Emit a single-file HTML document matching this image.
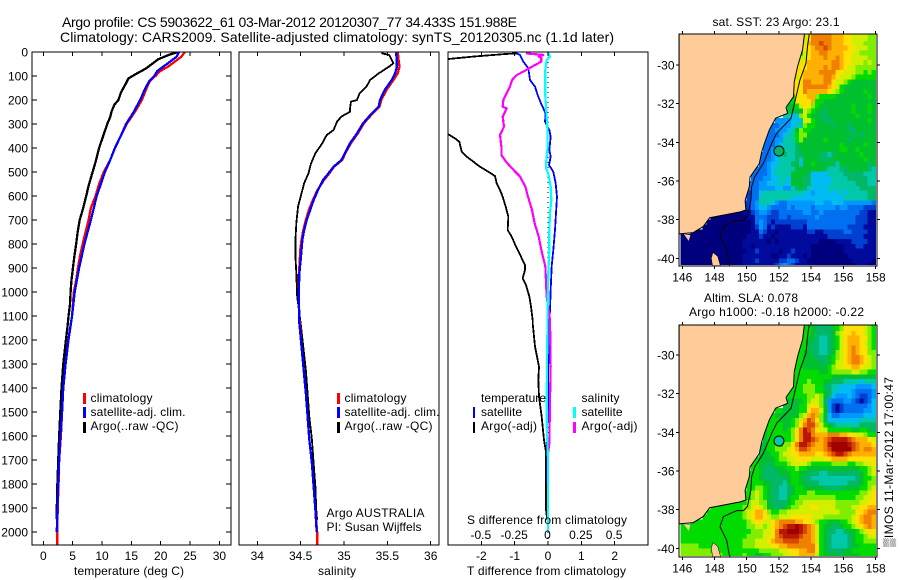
<!DOCTYPE html>
<html>
<head>
<meta charset="utf-8">
<title>Argo profile</title>
<style>
html,body{margin:0;padding:0;background:#fff;}
svg{display:block;font-family:"Liberation Sans",sans-serif;font-size:12px;fill:#000;}
</style>
</head>
<body>
<svg id="chart" xmlns="http://www.w3.org/2000/svg" width="900" height="580" viewBox="0 0 900 580">
  <rect x="0" y="0" width="900" height="580" fill="#fff"/>
  <defs>
    <clipPath id="clip-p1"><rect x="32" y="52" width="200" height="493"/></clipPath>
    <clipPath id="clip-p2"><rect x="239" y="52" width="200" height="493"/></clipPath>
    <clipPath id="clip-p3"><rect x="448" y="52" width="200" height="493"/></clipPath>
    <clipPath id="clip-m1"><rect x="680.5" y="34" width="195.5" height="231"/></clipPath>
    <clipPath id="clip-m2"><rect x="680.5" y="325" width="195.5" height="231"/></clipPath>
    <clipPath id="clip-l1"><rect x="679" y="34" width="197" height="232"/></clipPath>
    <clipPath id="clip-l2"><rect x="679" y="325" width="197" height="232"/></clipPath>
  </defs>
  <text x="62" y="27" font-size="14" textLength="455" lengthAdjust="spacing">Argo profile: CS 5903622_61 03-Mar-2012 20120307_77 34.433S 151.988E</text>
  <text x="60" y="42" font-size="14" textLength="554" lengthAdjust="spacing">Climatology: CARS2009. Satellite-adjusted climatology: synTS_20120305.nc (1.1d later)</text>

  <g id="panel1"></g>
  <g id="panel2"></g>
  <g id="panel3"></g>
  <g id="map1"></g>
  <g id="map2"></g>

  <text x="74" y="575" textLength="110" lengthAdjust="spacing">temperature (deg C)</text>
  <text x="318" y="575" textLength="38" lengthAdjust="spacing">salinity</text>
  <text x="467" y="575" textLength="159" lengthAdjust="spacing">T difference from climatology</text>
  <text x="467" y="524" textLength="160" lengthAdjust="spacing">S difference from climatology</text>

  <g>
    <rect x="83" y="393" width="3" height="11" fill="#f00"/>
    <rect x="83" y="407" width="3" height="11" fill="#00f"/>
    <rect x="83" y="422" width="3" height="11" fill="#000"/>
    <text x="90.5" y="402" textLength="62" lengthAdjust="spacing">climatology</text>
    <text x="90.5" y="416" textLength="95" lengthAdjust="spacing">satellite-adj. clim.</text>
    <text x="90.5" y="430" textLength="88" lengthAdjust="spacing">Argo(..raw -QC)</text>
  </g>
  <g>
    <rect x="337" y="393" width="3" height="11" fill="#f00"/>
    <rect x="337" y="407" width="3" height="11" fill="#00f"/>
    <rect x="337" y="422" width="3" height="11" fill="#000"/>
    <text x="344.5" y="402" textLength="62" lengthAdjust="spacing">climatology</text>
    <text x="344.5" y="416" textLength="95" lengthAdjust="spacing">satellite-adj. clim.</text>
    <text x="344.5" y="430" textLength="88" lengthAdjust="spacing">Argo(..raw -QC)</text>
  </g>
  <g>
    <text x="481" y="402" textLength="65" lengthAdjust="spacing">temperature</text>
    <rect x="473" y="407" width="2" height="11" fill="#00f"/>
    <text x="481" y="416" textLength="41" lengthAdjust="spacing">satellite</text>
    <rect x="473" y="422" width="2" height="11" fill="#000"/>
    <text x="481" y="430" textLength="56" lengthAdjust="spacing">Argo(-adj)</text>
    <text x="581.5" y="402" textLength="38" lengthAdjust="spacing">salinity</text>
    <rect x="573" y="407" width="3" height="11" fill="#0ff"/>
    <text x="581.5" y="416" textLength="41" lengthAdjust="spacing">satellite</text>
    <rect x="573" y="422" width="3" height="11" fill="#f0f"/>
    <text x="581.5" y="430" textLength="56" lengthAdjust="spacing">Argo(-adj)</text>
  </g>
  <text x="326.5" y="517" textLength="98" lengthAdjust="spacing">Argo AUSTRALIA</text>
  <text x="326.5" y="531" textLength="95" lengthAdjust="spacing">PI: Susan Wijffels</text>

  <text x="712.5" y="26" textLength="127" lengthAdjust="spacing">sat. SST: 23 Argo: 23.1</text>
  <text x="704" y="302" textLength="94" lengthAdjust="spacing">Altim. SLA: 0.078</text>
  <text x="689" y="316" textLength="175" lengthAdjust="spacing">Argo h1000: -0.18 h2000: -0.22</text>
  <text transform="translate(893,547) rotate(-90)" textLength="170" lengthAdjust="spacing">▒IMOS 11-Mar-2012 17:00:47</text>
</svg>
<script>
// ---------- profile data (depth in dbar) ----------
const depthTicks = [0,100,200,300,400,500,600,700,800,900,1000,1100,1200,1300,1400,1500,1600,1700,1800,1900,2000];
const tempTicks = [0,5,10,15,20,25,30];
const salTicks = [34,34.5,35,35.5,36];
const salTickLabels = ['34','34.5','35','35.5','36'];
const tDiffTicks = [-2,-1,0,1,2];
const tDiffLabels = ['-2','-1','0','1','2'];
const sDiffTicks = [-0.5,-0.25,0,0.25,0.5];
const sDiffLabels = ['-0.5','-0.25','0','0.25','0.5'];

const argoTempDepth = [0,10,30,50,70,90,110,130,170,200,220,250,270,300,350,400,450,500,550,600,650,700,750,800,850,900,950,1000,1050,1100,1150,1200,1300,1400,1500,1600,1700,1800,1900,1945];
const argoTemp = [23.0,21.6,19.6,18.5,17.4,15.9,14.5,14.1,13.2,12.8,12.1,11.6,11.4,10.9,10.2,9.5,9.0,8.4,7.8,7.3,6.8,6.2,5.85,5.6,5.3,5.05,4.8,4.65,4.55,4.3,4.1,3.85,3.4,3.1,2.9,2.7,2.55,2.4,2.3,2.3];
const climTempDepth = [0,20,40,60,80,100,120,150,200,250,300,350,400,450,500,550,600,650,700,750,800,850,900,950,1000,1100,1200,1300,1400,1500,1600,1700,1800,1900,2000,2054];
const climTemp = [24.1,23.5,22.4,21.3,19.9,19.1,18.2,17.6,16.8,15.6,14.2,13.2,12.2,11.4,10.3,9.5,8.9,8.1,7.7,7.2,6.7,6.25,5.9,5.6,5.2,4.9,4.3,3.8,3.4,3.2,3.0,2.7,2.6,2.45,2.4,2.4];
const satTempDepth = [0,20,40,60,80,100,120,150,200,250,300,350,400,450,500,600,700,800,900,1000,1100,1200,1300,1400,1500,1600,1700,1800,1900,2000];
const satTemp = [23.1,22.7,21.6,20.5,19.4,18.9,18.1,17.4,16.5,15.4,14.1,13.2,12.2,11.4,10.5,9.1,8.1,7.0,6.1,5.35,4.9,4.25,3.8,3.4,3.2,2.9,2.7,2.55,2.4,2.3];

const argoSalDepth = [5,12,33,47,61,89,117,144,172,200,207,235,249,269,290,325,346,380,422,464,506,547,589,644,714,783,853,922,1019,1103,1130,1227,1325,1422,1519,1616,1714,1811,1908,1950];
const argoSal = [35.43,35.52,35.55,35.57,35.52,35.40,35.30,35.26,35.18,35.15,35.08,35.07,35.07,34.97,34.92,34.88,34.80,34.75,34.67,34.62,34.59,34.54,34.51,34.47,34.45,34.44,34.44,34.45,34.46,34.49,34.50,34.53,34.56,34.58,34.60,34.63,34.65,34.67,34.68,34.69];
const climSalDepth = [0,33,61,89,117,158,200,228,256,297,339,380,422,450,478,506,533,575,617,658,700,742,783,825,867,922,1019,1103,1227,1325,1422,1519,1616,1714,1811,1908,2000,2054];
const climSal = [35.62,35.63,35.64,35.62,35.57,35.49,35.43,35.41,35.33,35.23,35.16,35.08,35.015,34.98,34.885,34.83,34.77,34.695,34.64,34.595,34.56,34.53,34.51,34.495,34.49,34.48,34.475,34.485,34.51,34.535,34.56,34.58,34.60,34.63,34.65,34.67,34.69,34.69];
const satSalDepth = [3,33,61,89,117,158,200,228,256,297,339,380,422,450,478,506,533,575,617,658,700,742,783,825,867,922,1019,1103,1130,1227,1325,1422,1519,1616,1714,1811,1908,2000];
const satSal = [35.6,35.61,35.61,35.59,35.55,35.47,35.415,35.40,35.32,35.22,35.15,35.07,35.01,34.97,34.88,34.82,34.76,34.70,34.65,34.61,34.57,34.54,34.52,34.51,34.50,34.485,34.477,34.485,34.485,34.51,34.535,34.56,34.58,34.60,34.63,34.65,34.67,34.685];

const argoDiffTDepth = [6,8,19,29,33,332,343,360,374,415,436,457,478,499,517,547,575,603,644,686,742,769,811,853,888,908,943,971,1019,1061,1117,1130,1227,1311,1366,1436,1519,1616,1658,1908,1950];
const argoDiffT = [-0.94,-1.24,-2.24,-2.97,-3.14,-3.14,-2.99,-2.79,-2.66,-2.59,-2.44,-2.24,-2.04,-1.79,-1.59,-1.54,-1.44,-1.36,-1.27,-1.19,-1.21,-1.09,-0.96,-0.81,-0.69,-0.69,-0.76,-0.66,-0.56,-0.51,-0.46,-0.46,-0.39,-0.27,-0.29,-0.27,-0.19,-0.12,-0.07,-0.06,-0.02];
const satDiffTDepth = [3,12,40,68,117,144,179,214,256,290,325,353,408,436,471,499,547,603,672,742,825,894,992,1075,1172,1311,1491,1582,1644,1672,2000];
const satDiffT = [-0.99,-0.84,-0.74,-0.59,-0.54,-0.39,-0.31,-0.21,-0.07,-0.09,0.04,0.08,0.04,0.08,0.03,0.16,0.23,0.27,0.24,0.21,0.16,0.11,0.08,0.06,0.02,0.01,0.01,-0.04,-0.04,-0.02,0];
const argoDiffSDepth = [6,12,19,26,40,61,82,96,117,144,172,200,228,235,269,311,346,394,429,457,485,519,561,603,658,714,769,825,894,1019,1116,1311,1450,1630,1672,2000];
const argoDiffS = [-0.165,-0.035,-0.07,-0.05,-0.05,-0.12,-0.185,-0.235,-0.27,-0.285,-0.31,-0.335,-0.34,-0.31,-0.34,-0.33,-0.36,-0.35,-0.35,-0.315,-0.27,-0.21,-0.17,-0.15,-0.12,-0.1,-0.07,-0.05,-0.02,-0.01,0.015,0.02,0.015,0.01,0,0];
const satDiffSDepth = [3,19,33,75,130,186,228,311,394,464,485,506,561,617,672,742,825,922,1033,1450,1547,1700,2000];
const satDiffS = [0,0.015,-0.01,-0.02,-0.02,-0.02,-0.015,-0.005,-0.002,-0.015,-0.015,0.002,0.02,0.025,0.015,0.01,0.01,0.002,-0.002,-0.01,-0.01,0,0];

// ---------- map data: 0.25-degree cells, colour-scale levels 0..17.
// Each row runs from lat -28.5 southward and is right-aligned to lon 158 (land cells omitted). ----------
const mapLonTicks = [146,148,150,152,154,156,158];
const mapLatTicks = [-30,-32,-34,-36,-38,-40];
const sstGrid = [
[11,12,14,14,14,14,14,13,13,13,12,12,11,11,11,11,10,10],
[10,11,13,14,14,15,14,14,13,13,13,12,12,11,11,11,10,10,10],
[9,12,12,13,14,14,15,14,13,13,13,13,12,12,11,11,11,10,10],
[9,11,12,13,13,14,14,13,13,13,13,12,12,11,11,10,10,10,10],
[11,11,12,13,13,13,14,13,13,14,13,12,12,11,11,11,11,10,10],
[11,11,12,13,13,13,13,13,13,14,14,13,12,12,11,11,11,10,11,10],
[12,12,12,13,13,13,13,14,13,14,14,13,12,11,11,10,10,10,10,10],
[12,12,13,13,13,13,14,14,14,14,12,12,11,11,11,10,10,9,10,9],
[11,12,13,13,13,13,13,14,14,13,12,11,11,11,10,9,9,9,9,9],
[12,12,14,14,13,13,13,14,14,12,11,11,10,9,8,8,8,8,8,8],
[12,12,12,14,14,14,14,14,14,13,12,11,9,8,8,8,8,8,8,8,8],
[12,12,12,14,13,13,13,13,13,12,11,10,9,8,8,8,8,8,9,8,8],
[9,12,12,12,13,13,10,9,9,9,9,8,8,8,8,8,8,8,8,9,8],
[9,9,12,12,12,12,13,9,9,8,8,8,8,8,8,8,8,8,8,8,8,8],
[8,8,9,11,12,12,10,9,8,8,8,8,8,8,8,8,9,8,8,8,9,8],
[8,8,8,8,8,11,10,9,8,8,7,8,8,8,8,8,8,9,8,8,8,9,8],
[6,6,5,5,10,11,9,8,8,7,7,8,8,8,8,8,8,8,9,8,8,8,8],
[4,4,4,4,5,5,6,11,11,9,8,8,7,7,8,8,8,8,8,8,8,8,8,9,8],
[3,3,4,4,4,5,6,6,10,9,9,8,8,8,8,7,8,8,8,7,8,8,8,8,8,8],
[3,3,4,4,4,5,6,8,10,9,9,8,8,8,8,8,8,8,8,8,7,7,8,8,8,8,8],
[3,3,3,4,5,6,6,9,10,10,8,8,8,8,8,8,8,8,8,8,8,7,8,7,8,8,8],
[3,3,3,4,4,6,6,6,9,10,8,8,8,8,8,9,8,8,8,8,8,7,8,8,8,8,8,8],
[3,3,3,4,5,6,6,6,7,8,8,8,8,8,8,8,8,8,8,9,8,8,8,8,8,9,8,8],
[3,3,4,4,5,6,6,6,7,8,8,8,8,8,8,8,8,8,8,9,9,8,8,9,8,8,8,8],
[3,3,3,4,5,6,7,6,6,7,7,8,8,8,8,7,7,6,7,8,8,8,8,8,8,9,8,8,8],
[3,3,3,4,5,6,6,6,6,7,6,8,8,8,8,7,7,7,8,8,8,8,8,8,8,8,9,8,8],
[3,3,4,5,5,6,6,6,7,8,5,8,8,9,8,8,8,8,7,6,8,8,8,8,8,8,8,7,8],
[3,3,3,4,5,6,6,6,6,6,8,8,8,8,8,8,8,7,6,6,6,7,7,8,8,8,8,8,7,6],
[3,3,3,3,4,5,6,6,6,6,8,8,8,8,7,5,5,5,5,6,6,6,6,7,7,7,7,7,6,6,6],
[3,3,3,4,4,5,5,6,6,5,8,8,8,7,7,5,5,5,5,5,6,6,6,6,7,7,7,7,7,6,6],
[3,3,3,4,4,5,5,5,6,5,5,8,8,8,7,7,5,5,5,5,5,6,6,6,6,6,6,7,7,7,6,6],
[3,3,3,4,4,4,4,5,5,4,4,6,7,8,7,6,5,5,5,5,6,6,6,6,6,6,6,6,7,7,7,7],
[2,3,3,5,6,6,6,6,6,6,6,6,6,6,5,5,4,5,5,5,5,5,5,6,5,6,6,6,6,6,7,7],
[2,3,3,6,6,6,6,6,6,6,6,5,5,5,5,5,5,5,5,5,5,5,5,5,6,6,6,6,6,6,7,7],
[2,2,3,4,6,6,6,5,4,3,3,4,4,4,4,4,4,4,5,5,4,4,5,5,5,4,4,4,4,4,4,4,3],
[1,2,3,4,5,5,4,3,3,3,3,4,3,4,4,4,4,3,4,4,4,4,4,3,4,4,3,3,3,3,2,2,2],
[0,0,0,0,0,1,1,2,3,4,4,3,2,2,3,3,3,3,3,3,4,4,3,3,4,3,3,3,3,3,3,3,3,3,2,2,1,1],
[0,0,0,0,0,0,0,0,0,1,1,3,3,3,2,2,2,3,3,2,3,3,3,3,3,3,4,3,3,3,3,3,3,3,3,3,2,2,2,1,1],
[0,0,0,0,0,0,0,0,0,0,0,1,3,4,3,2,1,2,2,2,2,2,2,2,2,3,3,3,3,3,3,3,3,3,3,3,3,2,2,2,1,1],
[0,0,0,0,0,0,0,0,0,0,0,0,1,2,4,3,1,2,1,1,1,1,2,2,2,1,3,3,3,3,3,3,3,3,3,3,2,2,2,2,1,1,1],
[0,0,0,0,0,0,0,0,0,0,0,0,0,0,0,1,1,3,2,1,1,0,1,1,1,1,1,1,1,2,2,1,1,2,2,2,2,2,3,3,2,2,2,2,1,1],
[0,0,0,0,0,0,0,0,0,0,0,0,0,0,0,0,1,1,1,2,1,1,0,1,1,1,1,1,1,1,1,1,1,1,1,1,2,2,2,2,2,2,2,2,2,1,1,1],
[0,0,0,0,0,0,0,0,0,0,0,0,0,0,0,1,1,1,1,1,1,0,1,0,1,1,1,1,1,1,1,1,1,1,0,0,0,0,1,1,1,1,2,2,2,2,1,1],
[0,0,0,0,0,0,0,0,0,0,0,0,0,0,0,1,1,0,1,1,1,1,1,1,1,1,1,1,1,1,1,1,0,0,0,0,0,0,0,0,1,1,1,2,2,1,1,1],
[0,0,0,0,0,0,0,0,0,0,0,0,0,0,0,0,1,1,2,1,1,1,1,1,0,1,1,2,1,1,1,1,0,0,0,0,0,0,0,0,1,1,1,1,1,1,1,1],
[0,0,0,0,0,0,0,0,0,0,0,0,0,0,0,1,1,1,1,1,1,1,0,0,1,1,2,1,1,1,0,1,0,0,0,0,0,0,0,0,0,1,1,1,1,1,1,1],
[0,0,0,0,0,0,0,0,0,0,0,0,0,0,0,1,1,1,2,1,1,1,1,1,2,2,3,3,2,1,1,0,0,0,0,0,0,0,0,0,0,0,1,1,1,1,1,0],
[0,0,0,0,0,0,0,0,0,0,0,0,0,0,0,1,1,1,1,1,1,1,1,2,3,4,3,2,1,1,1,0,0,0,0,0,0,0,0,0,0,0,0,1,1,1,0,0]
];
const slaGrid = [
[9,9,8,7,7,7,7,8,9,10,12,12,12,12,12,11,10,9],
[9,9,9,8,7,7,7,7,8,10,11,12,12,13,12,12,11,10,9],
[9,9,8,8,7,6,6,7,8,9,11,12,13,13,13,12,12,10,9],
[9,9,8,7,7,6,6,7,8,9,11,12,13,13,13,12,11,10,9],
[9,9,8,7,7,6,6,7,8,9,11,12,13,14,13,12,12,10,9],
[9,9,8,8,7,7,6,6,7,8,10,11,12,13,14,13,12,12,10,10],
[9,9,8,8,8,7,7,7,8,9,10,11,12,13,14,14,13,12,11,10],
[9,9,8,8,8,8,7,7,8,9,11,11,12,13,14,14,13,12,11,10],
[9,9,8,8,8,8,8,8,9,10,11,11,12,12,13,13,12,11,11,10],
[9,9,9,9,9,9,8,8,9,10,10,10,10,10,11,11,10,10,9,9],
[9,9,9,9,9,9,9,9,9,9,8,8,8,8,8,8,8,8,8,8,8],
[9,9,9,9,10,9,9,9,8,8,7,7,7,6,6,6,6,5,6,6,6],
[9,9,9,10,10,10,9,9,7,7,6,6,5,5,5,5,4,4,4,4,5],
[9,9,9,9,10,10,10,9,9,8,7,6,5,5,5,5,4,3,3,3,3,4],
[9,9,9,9,9,10,10,11,10,8,7,5,4,4,4,5,4,3,2,2,3,4],
[8,8,8,8,8,9,10,11,11,10,7,4,3,3,3,4,4,3,2,1,2,3,5],
[8,8,8,8,9,9,11,12,12,10,8,4,2,1,2,3,3,3,3,3,3,4,5],
[9,9,8,8,8,8,9,9,12,13,13,11,8,4,2,1,2,3,3,3,3,3,4,4,5],
[9,8,8,8,8,8,8,10,11,13,14,13,10,8,5,3,3,4,4,4,4,4,4,5,5,5],
[9,9,9,8,8,8,9,10,11,13,15,14,12,10,7,5,5,5,5,5,5,5,5,6,6,6,6],
[9,9,9,9,8,8,9,10,12,14,15,15,13,11,9,8,7,6,6,6,6,6,6,7,7,7,7],
[8,9,9,9,9,8,9,10,12,14,16,15,14,12,11,11,9,9,9,9,9,9,8,8,9,9,8,7],
[8,9,9,9,9,9,9,10,12,14,16,16,14,13,13,13,14,14,14,13,13,12,12,11,11,10,9,9],
[8,9,9,9,9,9,9,10,12,14,16,16,15,14,13,14,15,16,16,16,16,15,14,13,13,13,12,11],
[8,8,9,9,10,9,10,10,12,14,16,16,15,14,13,13,14,16,17,17,17,17,16,15,14,13,13,13,12],
[8,8,9,9,10,10,10,11,12,13,15,15,14,13,13,13,14,15,17,17,17,17,17,15,14,13,14,14,13],
[8,8,8,9,9,10,11,11,12,12,13,13,13,13,12,12,13,14,15,16,16,15,14,13,13,13,13,13,13],
[9,8,8,8,8,9,10,10,11,11,12,12,12,12,11,11,11,12,12,13,13,13,13,12,12,12,12,12,12,12],
[9,9,8,8,7,8,9,9,9,10,11,11,11,11,10,9,9,9,9,9,10,10,10,10,9,9,10,10,11,11,12],
[9,9,8,7,7,7,8,8,8,9,9,10,9,9,8,8,8,8,8,8,8,8,8,8,8,8,8,9,9,10,11],
[9,9,9,8,7,7,7,7,8,8,8,9,9,8,8,7,7,7,6,6,7,7,7,7,7,7,7,7,8,9,10,11],
[9,9,9,8,7,7,7,7,7,7,8,9,9,8,7,7,6,6,6,6,6,6,6,6,6,6,6,7,8,9,9,10],
[9,9,9,9,8,8,7,7,7,6,8,9,9,8,8,7,7,7,6,6,6,6,6,6,6,7,7,7,8,9,10,10],
[9,9,10,10,9,8,7,7,6,6,7,8,9,9,8,8,8,8,8,7,7,7,7,7,8,8,8,8,9,9,10,11],
[9,9,10,11,10,9,8,7,7,6,6,7,8,9,9,9,10,10,9,9,9,9,9,9,9,9,9,9,9,10,10,11,12],
[9,9,10,11,10,9,8,7,7,6,6,8,9,9,10,10,10,10,10,10,10,10,10,9,9,9,9,9,10,10,11,11,12],
[9,9,9,9,9,9,10,11,11,10,10,8,7,7,7,7,8,9,10,10,11,11,11,11,11,11,11,11,10,10,10,10,10,10,11,11,12,12],
[9,9,9,9,9,9,9,9,10,10,11,12,11,10,8,8,7,7,8,9,10,10,11,11,11,12,12,11,11,11,11,10,10,10,10,11,11,12,12,13,13],
[9,9,9,9,9,9,9,9,9,10,11,12,13,13,12,10,9,9,10,10,11,11,11,11,11,11,11,11,11,11,11,11,11,10,10,10,10,12,12,13,14,14],
[9,9,9,9,9,9,9,9,9,9,10,11,12,13,13,12,11,10,10,11,11,11,12,12,12,12,12,11,11,11,10,10,10,10,10,10,10,11,12,13,14,14,13],
[9,9,9,9,9,9,9,9,9,9,9,9,9,9,10,11,12,12,11,11,12,13,14,14,14,14,13,13,12,12,11,10,9,9,8,8,8,9,9,10,11,12,13,14,14,13],
[9,9,9,9,9,9,9,9,9,9,9,9,9,9,9,9,10,10,11,11,10,11,12,13,14,15,16,16,17,16,15,14,13,11,9,8,8,7,7,8,9,9,10,11,12,13,14,13],
[9,9,9,9,9,9,9,9,9,9,9,9,9,9,9,9,9,10,10,10,11,11,12,14,16,16,17,17,17,16,15,14,13,11,9,8,7,7,6,6,7,8,8,9,10,11,12,12],
[9,9,9,9,9,9,9,9,9,9,9,9,9,9,9,9,10,10,10,10,11,11,12,14,15,16,16,16,16,15,14,14,13,11,9,8,7,6,6,6,6,7,8,9,9,10,11,11],
[9,9,9,9,9,9,9,9,9,9,9,9,9,9,9,10,10,10,11,11,11,12,13,14,14,15,15,15,15,14,14,14,13,11,9,8,7,6,6,6,6,7,8,9,9,10,10,10],
[10,10,10,10,9,9,9,9,9,9,9,9,9,9,9,10,10,10,11,11,11,11,12,12,13,13,14,14,14,14,14,14,14,12,9,8,7,6,6,6,6,7,8,8,9,9,9,9],
[10,10,10,10,10,10,10,9,9,9,9,9,9,9,9,9,9,9,9,10,10,10,10,10,11,11,12,12,12,13,13,14,14,12,9,8,7,7,7,7,8,8,9,9,9,9,9,9],
[10,10,10,10,10,10,10,10,10,10,9,9,9,9,9,10,9,9,8,8,9,9,10,10,10,11,11,12,12,13,13,13,13,11,9,8,8,8,8,7,8,8,8,8,9,9,9,9]
];
const levelColours = ['#00007f','#000a9c','#0040d0','#0070f0','#0098ff','#00bcf0','#00c8a8','#00b868','#00c030','#00dc00','#80ee00','#d0f000','#ffe000','#ffb000','#f08000','#d84800','#b81800','#a00000'];

const coastLon = [153.6,153.47,153.16,152.95,152.9,152.44,152.54,151.8,151.4,151.1,150.93,150.78,150.2,150.16,149.9,149.95,149.6,147.7,147.3,146.68,145.8,145.8];
const coastLat = [-28.3,-29.2,-30.08,-30.86,-31.64,-32.2,-32.5,-32.75,-33.36,-34.05,-34.5,-35.1,-35.8,-36.3,-37.0,-37.5,-37.6,-37.9,-38.36,-38.67,-38.74,-28.3];
const promLon = [146.1,146.5,146.4];
const promLat = [-38.75,-38.8,-39.1];
const flindersLon = [147.9,148.2,148.4,147.9,147.8];
const flindersLat = [-39.7,-39.9,-40.5,-40.5,-40.0];
const isobathLon = [153.9,153.78,153.68,153.3,153.16,153.06,152.75,151.86,151.55,151.03,150.5,150.3,150.25,150.04,149.79,149.37,148.55,148.34,148.75,148.92,149.0];
const isobathLat = [-28.3,-29.0,-29.9,-30.78,-31.3,-31.64,-32.76,-33.53,-34.05,-35.09,-35.78,-36.3,-37.0,-37.84,-38.05,-38.05,-38.36,-38.88,-39.57,-40.34,-40.5];
const floatLon = [152];
const floatLat = [-34.45];

// ---------- axis functions ----------
const depthY = d => 52 + 0.24 * d;
const tempX = t => 43.3 + 5.87 * t;
const salX = s => 257.3 + 86.7 * (s - 34);
const diffTX = v => 548 + 33.33 * v;
const diffSX = v => 548 + 133.3 * v;
const lonX = lon => 682.3 + 16.11 * (lon - 146);
const latY1 = lat => 65 + 19.33 * (-30 - lat);
const latY2 = lat => 355 + 19.33 * (-30 - lat);

const NS = 'http://www.w3.org/2000/svg';
function make(tag, parent, attrs, txt) {
  const n = document.createElementNS(NS, tag);
  for (const k in attrs) n.setAttribute(k, attrs[k]);
  if (txt !== undefined) n.textContent = txt;
  parent.appendChild(n);
  return n;
}
function tickLine(parent, x1, y1, x2, y2) {
  const t = make('line', parent, {x1: x1, y1: y1, x2: x2, y2: y2, stroke: '#000', 'stroke-width': 1, 'shape-rendering': 'crispEdges'});
  
  
}
function tickLabel(parent, x, y, anchor, str) {
  const t = make('text', parent, {x: x, y: y, 'text-anchor': anchor}, str);
  
  
}
function frame(parent, x, y, w, h) {
  const f = make('rect', parent, {x: x, y: y, width: w, height: h, fill: 'none', stroke: '#000', 'stroke-width': 1, 'shape-rendering': 'crispEdges'});
  
  
}
function series(parent, name, clipId, depths, values, xFn, colour, width) {
  const pts = depths.map((d, i) => xFn(values[i]).toFixed(2) + ',' + depthY(d).toFixed(2)).join(' ');
  const p = make('polyline', parent, {points: pts, fill: 'none', stroke: colour, 'stroke-width': width, 'stroke-linejoin': 'round', 'clip-path': 'url(#' + clipId + ')', 'shape-rendering': 'crispEdges'});
  
  
}

// ---------- panel 1 ----------
const p1 = document.getElementById('panel1');
series(p1, 'series-argo-temperature', 'clip-p1', argoTempDepth, argoTemp, tempX, '#000', 2.3);
series(p1, 'series-climatology-temperature', 'clip-p1', climTempDepth, climTemp, tempX, '#f00', 2.3);
series(p1, 'series-satellite-temperature', 'clip-p1', satTempDepth, satTemp, tempX, '#00f', 2.3);
frame(p1, 32, 52, 199, 493);
depthTicks.forEach(d => {
  tickLine(p1, 32, depthY(d), 37, depthY(d));
  tickLine(p1, 226, depthY(d), 231, depthY(d));
  tickLabel(p1, 28, depthY(d) + 4.5, 'end', String(d));
});
tempTicks.forEach(t => {
  tickLine(p1, tempX(t), 52, tempX(t), 56);
  tickLine(p1, tempX(t), 541, tempX(t), 545);
  tickLabel(p1, tempX(t), 560, 'middle', String(t));
});

// ---------- panel 2 ----------
const p2 = document.getElementById('panel2');
series(p2, 'series-argo-salinity', 'clip-p2', argoSalDepth, argoSal, salX, '#000', 1.8);
series(p2, 'series-climatology-salinity', 'clip-p2', climSalDepth, climSal, salX, '#f00', 2.3);
series(p2, 'series-satellite-salinity', 'clip-p2', satSalDepth, satSal, salX, '#00f', 2.3);
frame(p2, 239, 52, 200, 493);
salTicks.forEach((s, i) => {
  tickLine(p2, salX(s), 52, salX(s), 56);
  tickLine(p2, salX(s), 541, salX(s), 545);
  tickLabel(p2, salX(s), 560, 'middle', salTickLabels[i]);
});

// ---------- panel 3 ----------
const p3 = document.getElementById('panel3');
const zeroLine = make('line', p3, {x1: diffTX(0), y1: 52, x2: diffTX(0), y2: 545, stroke: '#000', 'stroke-width': 1, 'stroke-dasharray': '1 4', 'shape-rendering': 'crispEdges'});


series(p3, 'series-satellite-t-difference', 'clip-p3', satDiffTDepth, satDiffT, diffTX, '#00f', 1.8);
series(p3, 'series-argo-t-difference', 'clip-p3', argoDiffTDepth, argoDiffT, diffTX, '#000', 1.8);
series(p3, 'series-argo-s-difference', 'clip-p3', argoDiffSDepth, argoDiffS, diffSX, '#f0f', 2.2);
series(p3, 'series-satellite-s-difference', 'clip-p3', satDiffSDepth, satDiffS, diffSX, '#0ff', 2.2);
frame(p3, 448, 52, 200, 493);
tDiffTicks.forEach((v, i) => {
  tickLine(p3, diffTX(v), 52, diffTX(v), 56);
  tickLine(p3, diffTX(v), 541, diffTX(v), 545);
  tickLabel(p3, diffTX(v), 560, 'middle', tDiffLabels[i]);
});
sDiffTicks.forEach((v, i) => {
  tickLabel(p3, diffSX(v) - 0.5, 539, 'middle', sDiffLabels[i]);
});

// ---------- maps ----------
function polyPoints(lons, lats, yFn) {
  return lons.map((lon, i) => lonX(lon).toFixed(1) + ',' + yFn(lats[i]).toFixed(1)).join(' ');
}
function drawMap(g, grid, yFn, dataClip, frameClip, top, bottom, floatFill) {
  const cells = make('g', g, {'clip-path': 'url(#' + dataClip + ')', 'shape-rendering': 'crispEdges'});
  
  
  grid.forEach((row, r) => {
    const lat = -28.5 - 0.25 * r;
    const startCol = 48 - row.length;
    row.forEach((v, i) => {
      const c = startCol + i;
      const lon = 146 + 0.25 * c;
      const x0 = lonX(lon), y0 = yFn(lat);
      const cell = make('rect', cells, {x: x0 - (c === 0 ? 4 : 0), y: y0 - (r === 0 ? 6 : 0), width: lonX(lon + 0.25) - x0 + 0.5 + (c === 0 ? 4 : 0), height: yFn(lat - 0.25) - y0 + 0.5 + (r === 0 ? 6 : 0), fill: levelColours[v]});
      
      
    });
  });
  const land = make('g', g, {'clip-path': 'url(#' + frameClip + ')'});
  
  
  const main = make('polygon', land, {points: polyPoints(coastLon, coastLat, yFn), fill: '#ffcc99', stroke: '#000', 'stroke-width': 1});
  
  
  const prom = make('polygon', land, {points: polyPoints(promLon, promLat, yFn), fill: '#ffcc99'});
  
  
  const isl = make('polygon', land, {points: polyPoints(flindersLon, flindersLat, yFn), fill: '#ffcc99', stroke: '#000', 'stroke-width': 0.5});
  
  
  const iso = make('polyline', land, {points: polyPoints(isobathLon, isobathLat, yFn), fill: 'none', stroke: '#000', 'stroke-width': 1});
  
  
  const dot = make('circle', land, {cx: lonX(floatLon[0]), cy: yFn(floatLat[0]), r: 5, fill: floatFill, stroke: '#000', 'stroke-width': 1});
  
  
  frame(g, 679, top, 198, bottom - top);
  mapLonTicks.forEach(lon => {
    tickLine(g, lonX(lon), top - 3, lonX(lon), top);
    tickLine(g, lonX(lon), bottom, lonX(lon), bottom + 3);
    tickLabel(g, lonX(lon), bottom + 15.5, 'middle', String(lon));
  });
  mapLatTicks.forEach(lat => {
    tickLine(g, 676, yFn(lat), 679, yFn(lat));
    tickLine(g, 877, yFn(lat), 880, yFn(lat));
    tickLabel(g, 674.5, yFn(lat) + 4.5, 'end', String(lat));
  });
}
drawMap(document.getElementById('map1'), sstGrid, latY1, 'clip-m1', 'clip-l1', 34, 266, '#00b868');
drawMap(document.getElementById('map2'), slaGrid, latY2, 'clip-m2', 'clip-l2', 325, 557, '#00c8a8');
</script>
</body>
</html>
